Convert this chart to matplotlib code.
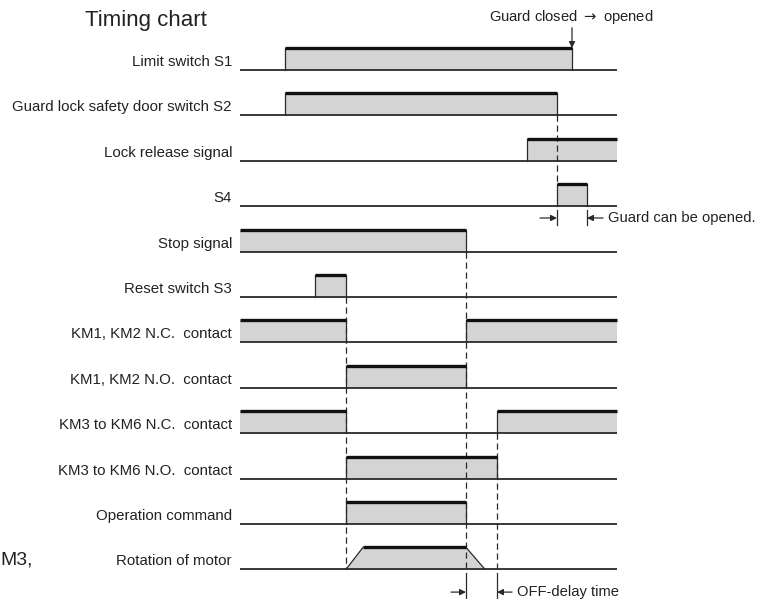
import matplotlib
matplotlib.use("Agg")
import matplotlib.pyplot as plt
from matplotlib.patches import Polygon

plt.rcParams['font.family'] = ['Liberation Sans', 'DejaVu Sans']

# ### signals, top to bottom; times in arbitrary units (0 = left end of the traces)
labels = [
    "Limit switch S1",
    "Guard lock safety door switch S2",
    "Lock release signal",
    "S4",
    "Stop signal",
    "Reset switch S3",
    "KM1, KM2 N.C.  contact",
    "KM1, KM2 N.O.  contact",
    "KM3 to KM6 N.C.  contact",
    "KM3 to KM6 N.O.  contact",
    "Operation command",
    "Rotation of motor",
]
T_END = 37.7
pulses = [
    [(4.5, 33.2)],
    [(4.5, 31.7)],
    [(28.7, T_END)],
    [(31.7, 34.7)],
    [(0.0, 22.6)],
    [(7.5, 10.6)],
    [(0.0, 10.6), (22.6, T_END)],
    [(10.6, 22.6)],
    [(0.0, 10.6), (25.7, T_END)],
    [(10.6, 25.7)],
    [(10.6, 22.6)],
    [],
]
# motor: start ramp, full speed, decel start, stopped
motor = [10.6, 12.3, 22.6, 24.5]

# dashed guide lines: time, from row, to row
guides = [(31.7, 1, 3), (10.6, 5, 11), (22.6, 4, 11), (25.7, 8, 11)]

H = 0.485          # pulse height (in row units)
FILL = '#d4d4d4'
DARK = '#2a2a2a'

fig = plt.figure(figsize=(7.57, 5.99), dpi=100)
ax = fig.add_axes([0, 0, 1, 1])
ax.set_xlim(-24.0, 51.7)
ax.set_ylim(11.652, -1.542)
ax.axis('off')

for r, (lab, segs) in enumerate(zip(labels, pulses)):
    ax.plot([0, T_END], [r, r], color=DARK, lw=1.3, zorder=3, solid_capstyle='butt')
    ax.text(-0.8, r - 0.09, lab, ha='right', va='baseline', fontsize=10.8, color='#222222')
    for a, b in segs:
        ax.fill_between([a, b], r, r - H, color=FILL, lw=0, zorder=1)
        ax.plot([a, b], [r - H, r - H], color='#111111', lw=2.4, zorder=4, solid_capstyle='butt')
        for e in (a, b):
            if 0 < e < T_END:
                ax.plot([e, e], [r, r - H], color=DARK, lw=0.9, zorder=3)

# rotation of motor (trapezoid)
r = len(labels) - 1
t0, t1, t2, t3 = motor
ax.add_patch(Polygon([(t0, r), (t1, r - H), (t2, r - H), (t3, r)], closed=True,
                     facecolor=FILL, edgecolor='none', zorder=1))
ax.plot([t0, t1], [r, r - H], color=DARK, lw=0.9, zorder=3)
ax.plot([t2, t3], [r - H, r], color=DARK, lw=0.9, zorder=3)
ax.plot([t1, t2], [r - H, r - H], color='#111111', lw=2.4, zorder=4, solid_capstyle='butt')

for t, r0, r1 in guides:
    ax.plot([t, t], [r0, r1 - (H if r1 == 3 else 0)], color=DARK, lw=0.9,
            ls=(0, (5, 3)), zorder=2)

def span_arrows(ta, tb, y, y0, y1, left, right):
    for t in (ta, tb):
        ax.plot([t, t], [y0, y1], color=DARK, lw=0.9)
    ax.annotate('', xy=(ta, y), xytext=(left, y),
                arrowprops=dict(arrowstyle='-|>', color=DARK, lw=0.9,
                                mutation_scale=9, shrinkA=0, shrinkB=0))
    ax.annotate('', xy=(tb, y), xytext=(right, y),
                arrowprops=dict(arrowstyle='-|>', color=DARK, lw=0.9,
                                mutation_scale=9, shrinkA=0, shrinkB=0))

# Guard can be opened
span_arrows(31.7, 34.7, 3.26, 3.08, 3.41, 30.0, 36.3)
ax.text(36.8, 3.26, "Guard can be opened.", ha='left', va='center', fontsize=10.6, color='#222222')

# OFF-delay time
span_arrows(22.6, 25.7, 11.5, 11.08, 11.7, 21.1, 27.2)
ax.text(27.7, 11.5, "OFF-delay time", ha='left', va='center', fontsize=10.6, color='#222222')

# Guard closed -> opened
ax.text(41.3, -1.17, r"Guard closed $\rightarrow$ opened", ha='right', va='center',
        fontsize=10.6, color='#222222')
ax.annotate('', xy=(33.2, -H), xytext=(33.2, -0.93),
            arrowprops=dict(arrowstyle='-|>', color=DARK, lw=0.9,
                            mutation_scale=9, shrinkA=0, shrinkB=0))

ax.text(-15.5, -1.08, "Timing chart", ha='left', va='center', fontsize=16, color='#222222')
ax.text(-24.0, 10.79, "M3,", ha='left', va='center', fontsize=14, color='#222222')

fig.savefig("out.png", dpi=100)
